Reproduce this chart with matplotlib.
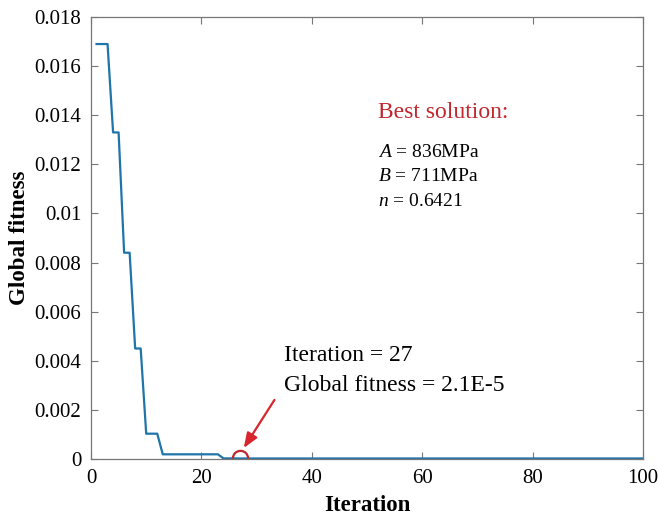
import numpy as np
import matplotlib
matplotlib.use("Agg")
import matplotlib.pyplot as plt
from matplotlib.ticker import FuncFormatter

# fitness levels of the optimiser and how many iterations each one lasted
levels = [0.0169, 0.0133, 0.0084, 0.0045, 0.00103, 0.00019, 0.000024, 0.000021]
runs = [3, 2, 2, 2, 3, 11, 3, 74]

best_iter = 27
best_fit = 2.1e-5

solution_lines = ["$A$ = 836MPa", "$B$ = 711MPa", "$n$ = 0.6421"]

iterations = np.arange(1, sum(runs) + 1)
fitness = np.repeat(levels, runs)

plt.rcParams["font.family"] = ["Liberation Serif", "DejaVu Serif"]
plt.rcParams["mathtext.fontset"] = "custom"
plt.rcParams["mathtext.it"] = "Liberation Serif:italic"
plt.rcParams["mathtext.rm"] = "Liberation Serif"

fig = plt.figure(figsize=(6.58, 5.16), dpi=100)
ax = fig.add_axes([0.1383, 0.1105, 0.8389, 0.8565])

ax.plot(iterations, fitness, color="#1f74aa", lw=1.6)
ax.plot(best_iter, best_fit, "o", ms=11, mfc="none", mec="#c1272d", mew=1.6)

ax.annotate("", xy=(best_iter + 0.4, 0.00035), xytext=(33.5, 0.0025),
            arrowprops=dict(arrowstyle="-|>,head_length=0.9,head_width=0.35",
                            color="#d7262d", lw=1.6))
ax.text(35, 0.0042, "Iteration = %d" % best_iter, fontsize=17, va="center")
ax.text(35, 0.0030, "Global fitness = 2.1E-5", fontsize=17, va="center")

ax.text(52, 0.0141, "Best solution:", fontsize=17, color="#c1272d", va="center")
for i, s in enumerate(solution_lines):
    ax.text(52, 0.0125 - i * 0.00100, s, fontsize=14, va="center")

ax.set_xlim(0, 100)
ax.set_ylim(0, 0.018)
ax.set_xticks(np.arange(0, 101, 20))
ax.set_yticks(np.arange(0, 0.0181, 0.002))
ax.yaxis.set_major_formatter(FuncFormatter(lambda v, p: "%g" % round(v, 4)))
ax.tick_params(direction="in", top=True, right=True, labelsize=15,
               color="#777777", length=5, width=0.8)
ax.tick_params(axis="x", pad=7)
ax.tick_params(axis="y", pad=7)
for sp in ax.spines.values():
    sp.set_color("#777777")
    sp.set_linewidth(0.9)

ax.set_xlabel("Iteration", fontsize=16.5, fontweight="bold", labelpad=5)
ax.set_ylabel("Global fitness", fontsize=16.5, fontweight="bold", labelpad=3)

plt.savefig("out.png", dpi=100)
